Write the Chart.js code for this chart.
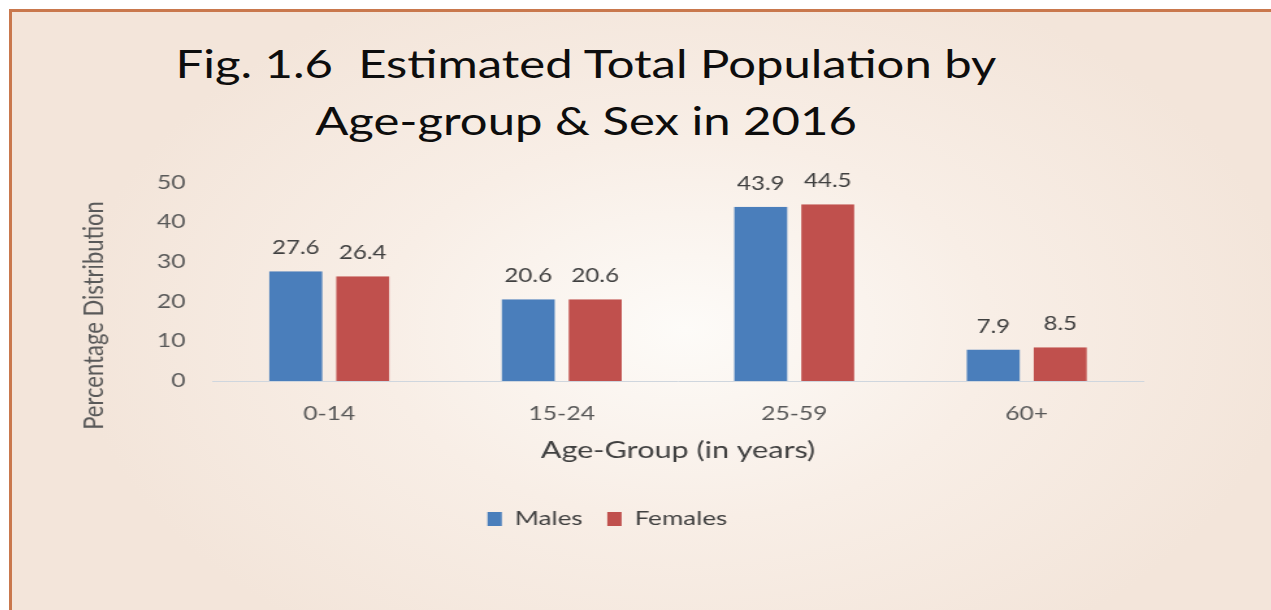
<!DOCTYPE html>
<html>
<head>
<meta charset="utf-8">
<title>Fig. 1.6 Estimated Total Population by Age-group & Sex in 2016</title>
<script src="https://cdn.jsdelivr.net/npm/chart.js@4.4.0/dist/chart.umd.min.js"></script>
<style>
  html, body {
    margin: 0;
    padding: 0;
    width: 1271px;
    height: 610px;
    overflow: hidden;
    background: #ffffff;
  }
  #frame {
    position: absolute;
    left: 9px;
    top: 9px;
    width: 1270px;
    height: 610px;
    border-top: 3px solid #c9784d;
    border-left: 3px solid #c9784d;
    background: radial-gradient(ellipse 48% 62% at 53% 52%, #fdfbf8 0%, #f8eee6 50%, #f3e5da 100%);
  }
  /* the original figure is stretched sideways, so the text is too */
  #title {
    position: absolute;
    left: 74px;
    top: 23px;
    width: 1000px;
    text-align: center;
    font-family: Lato, sans-serif;
    font-size: 38px;
    line-height: 57px;
    color: #0d0d0d;
    transform: scaleX(1.29);
    transform-origin: 50% 0;
  }
  #chart {
    position: absolute;
    left: 0;
    top: 138px;
    transform: scaleX(1.3);
    transform-origin: 0 0;
  }
</style>
</head>
<body>
<div id="frame">
  <div id="title">Fig. 1.6&nbsp; Estimated Total Population by<br>Age-group &amp; Sex in 2016</div>
  <canvas id="chart" width="922" height="460"></canvas>
</div>
<script>
const ageGroups = ["0-14", "15-24", "25-59", "60+"];
const males = [27.6, 20.6, 43.9, 7.9];
const females = [26.4, 20.6, 44.5, 8.5];
const yTicks = [0, 10, 20, 30, 40, 50];

const labelColor = "#404040";
const tickColor = "#595959";

// values over each bar (no datalabels plugin offline)
const valueLabels = {
  id: "valueLabels",
  afterDatasetsDraw(chart) {
    const { ctx } = chart;
    ctx.save();
    ctx.font = "18.5px Lato";
    ctx.fillStyle = labelColor;
    ctx.textAlign = "center";
    ctx.textBaseline = "middle";
    chart.data.datasets.forEach((ds, i) => {
      chart.getDatasetMeta(i).data.forEach((bar, j) => {
        ctx.fillText(ds.data[j].toFixed(1), bar.x, bar.y - 23);
      });
    });
    ctx.restore();
  },
};

// transparent side borders give the gap between the two bars
const barStyle = {
  borderColor: "rgba(0,0,0,0)",
  borderWidth: { left: 5.4, right: 5.4, top: 0, bottom: 0 },
  borderSkipped: false,
  barPercentage: 1,
  categoryPercentage: 0.576,
};

new Chart(document.getElementById("chart"), {
  type: "bar",
  data: {
    labels: ageGroups,
    datasets: [
      { label: "Males", data: males, backgroundColor: "#4a7ebb", ...barStyle },
      { label: "Females", data: females, backgroundColor: "#c0504d", ...barStyle },
    ],
  },
  options: {
    responsive: false,
    animation: false,
    layout: {
      padding: { left: 46, right: 52, top: 23, bottom: 71 },
    },
    plugins: {
      tooltip: { enabled: false },
      legend: {
        position: "bottom",
        labels: {
          color: labelColor,
          font: { family: "Lato", size: 20 },
          boxWidth: 11,
          boxHeight: 14,
          padding: 19,
        },
      },
    },
    scales: {
      x: {
        grid: { display: false, drawTicks: false },
        border: { display: true, color: "#cfd6de", width: 1 },
        ticks: { color: tickColor, font: { family: "Lato", size: 19 }, padding: 21 },
        title: {
          display: true,
          text: "Age-Group (in years)",
          color: labelColor,
          font: { family: "Lato", size: 23.5 },
          padding: { top: -9, bottom: 25 },
        },
      },
      y: {
        min: 0,
        max: 50,
        grid: { display: false, drawTicks: false },
        border: { display: false },
        afterBuildTicks(scale) {
          scale.ticks = yTicks.map((v) => ({ value: v }));
        },
        afterFit(scale) {
          scale.width = 108.6;
        },
        ticks: { color: tickColor, font: { family: "Lato", size: 19 }, padding: 21 },
        title: {
          display: true,
          text: "Percentage Distribution            ",
          color: tickColor,
          font: { family: "Lato", size: 22 },
        },
      },
    },
  },
  plugins: [valueLabels],
});
</script>
</body>
</html>
